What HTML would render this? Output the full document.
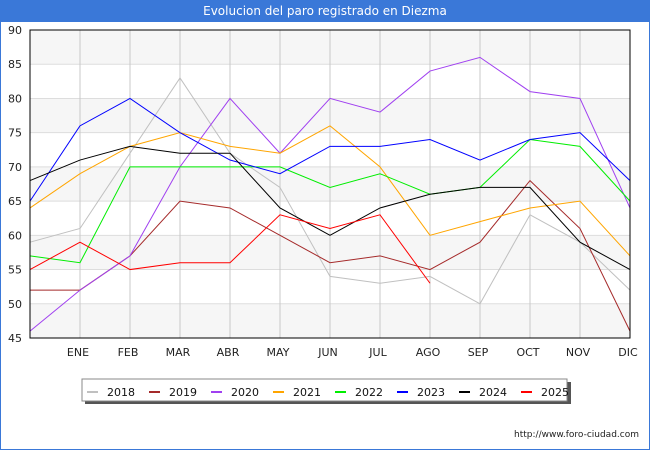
<!DOCTYPE html>
<html><head><meta charset="utf-8"><style>
body{margin:0;width:650px;height:450px;overflow:hidden;background:#fff;font-family:"DejaVu Sans","Liberation Sans",sans-serif;}
#frame{position:absolute;left:0;top:0;width:648px;height:448px;border:1px solid #3a78d8;}
#title{position:absolute;left:0;top:0;width:650px;height:22px;background:#3a78d8;color:#fff;font-size:12px;text-align:center;line-height:22px;}
</style></head><body>
<div id="frame"></div>
<div id="title">Evolucion del paro registrado en Diezma</div>
<svg id="chart" width="650" height="450" style="position:absolute;left:0;top:0"></svg>
<script>
const months=["","ENE","FEB","MAR","ABR","MAY","JUN","JUL","AGO","SEP","OCT","NOV","DIC"];
const yTicks=[45,50,55,60,65,70,75,80,85,90];
const years=["2018","2019","2020","2021","2022","2023","2024","2025"];
const colors=["#c0c0c0","#a52a2a","#a040f0","#ffa500","#00ee00","#0000ff","#000000","#ff0000"];
const s2018=[59,61,72,83,72,67,54,53,54,50,63,59,52];
const s2019=[52,52,57,65,64,60,56,57,55,59,68,61,46];
const s2020=[46,52,57,70,80,72,80,78,84,86,81,80,64];
const s2021=[64,69,73,75,73,72,76,70,60,62,64,65,57];
const s2022=[57,56,70,70,70,70,67,69,66,67,74,73,65];
const s2023=[65,76,80,75,71,69,73,73,74,71,74,75,68];
const s2024=[68,71,73,72,72,64,60,64,66,67,67,59,55];
const s2025=[55,59,55,56,56,63,61,63,53];
const series=[s2018,s2019,s2020,s2021,s2022,s2023,s2024,s2025];
const X0=30,X1=630,Y0=338,Y1=30,YMIN=45,YMAX=90;
const xs=i=>X0+i*(X1-X0)/12;
const ys=v=>Y0-(v-YMIN)*(Y0-Y1)/(YMAX-YMIN);
const svg=document.getElementById('chart');
const NS="http://www.w3.org/2000/svg";
function mk(t,a){const e=document.createElementNS(NS,t);for(const k in a)e.setAttribute(k,a[k]);svg.appendChild(e);return e;}
for(let i=0;i<yTicks.length-1;i+=2){const top=yTicks[yTicks.length-1-i];
const r=mk('rect',{x:X0,y:ys(top),width:X1-X0,height:ys(top-5)-ys(top),fill:'#f6f6f6'});

}
yTicks.forEach(v=>{const l=mk('line',{x1:X0,x2:X1,y1:ys(v),y2:ys(v),stroke:'#dddddd','stroke-width':1});


const t=mk('text',{x:X0-8,y:ys(v)+4,'text-anchor':'end','font-size':11,fill:'#222'});t.textContent=v;

});
months.forEach((m,i)=>{if(i>0&&i<12){const l=mk('line',{x1:xs(i),x2:xs(i),y1:Y1,y2:Y0,stroke:'#c8c8c8','stroke-width':1});

}
if(m){const t=mk('text',{x:xs(i)-2,y:356,'text-anchor':'middle','font-size':11,fill:'#222'});t.textContent=m;

}});
series.forEach((s,k)=>{const p=mk('polyline',{points:s.map((v,i)=>xs(i)+','+ys(v)).join(' '),fill:'none',stroke:colors[k],'stroke-width':1});

});
const ax=mk('rect',{x:X0,y:Y1,width:X1-X0,height:Y0-Y1,fill:'none',stroke:'#000','stroke-width':1});


const sh=mk('rect',{x:85,y:382,width:486,height:22,fill:'#555'});


const lb=mk('rect',{x:82,y:379,width:485,height:22,fill:'#fff',stroke:'#888','stroke-width':1});


years.forEach((y,k)=>{const x=87+k*62;
const sw=mk('line',{x1:x,x2:x+11,y1:392,y2:392,stroke:colors[k],'stroke-width':2});


const t=mk('text',{x:x+20,y:396,'font-size':11,fill:'#111'});t.textContent=y;

});
const u=mk('text',{x:639,y:437,'text-anchor':'end','font-size':9,fill:'#222'});u.textContent="http://www.foro-ciudad.com";


</script>
</body></html>
